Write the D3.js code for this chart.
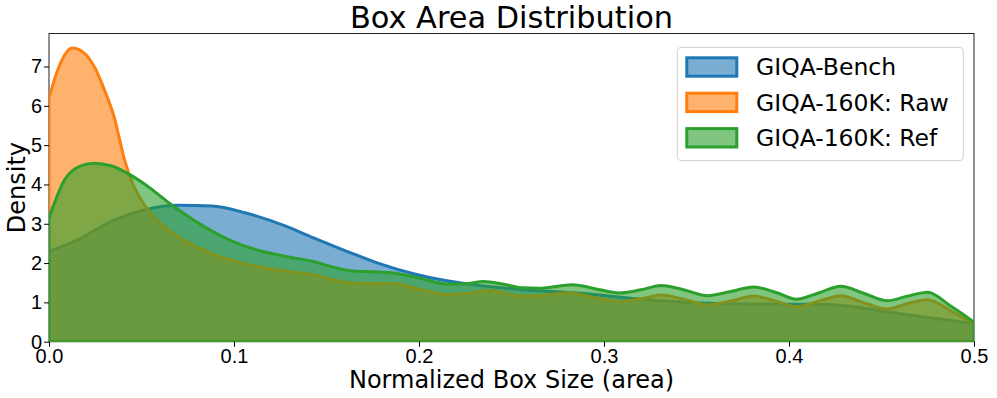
<!DOCTYPE html>
<html lang="en">
<head>
<meta charset="utf-8">
<title>Box Area Distribution</title>
<script src="https://cdn.jsdelivr.net/npm/d3@7"></script>
<style>
  body { margin: 0; background: #fff; }
  svg { font-family: "DejaVu Sans", sans-serif; }
  .axis path { display: none; }
  .axis line { stroke: #000; }
  .axis text { font-size: 20px; fill: #000; }
</style>
</head>
<body>
<div id="chart"></div>
<script>
// series: x positions (normalized box area) and KDE density
var benchX = [0, 0.016, 0.034, 0.052, 0.07, 0.088, 0.106, 0.128, 0.143, 0.161, 0.179, 0.197, 0.215, 0.233, 0.255, 0.288, 0.32, 0.35, 0.38, 0.415, 0.433, 0.45, 0.468, 0.5];
var benchY = [2.3, 2.6, 3.07, 3.36, 3.47, 3.45, 3.28, 2.94, 2.64, 2.3, 1.98, 1.73, 1.55, 1.43, 1.33, 1.23, 1.08, 0.99, 0.96, 0.95, 0.9, 0.78, 0.66, 0.46];

var rawX = [0, 0.005, 0.0126, 0.02, 0.025, 0.03, 0.035, 0.041, 0.045, 0.052, 0.061, 0.07, 0.079, 0.09, 0.097, 0.11, 0.125, 0.143, 0.155, 0.164, 0.175, 0.185, 0.2, 0.215, 0.225, 0.237, 0.245, 0.254, 0.265, 0.281, 0.295, 0.308, 0.32, 0.331, 0.344, 0.356, 0.368, 0.381, 0.393, 0.404, 0.416, 0.428, 0.44, 0.453, 0.464, 0.475, 0.487, 0.5];
var rawY = [6.2, 6.95, 7.47, 7.3, 6.95, 6.4, 5.75, 4.6, 4.05, 3.45, 2.98, 2.66, 2.43, 2.2, 2.09, 1.93, 1.81, 1.7, 1.56, 1.49, 1.48, 1.48, 1.34, 1.2, 1.22, 1.3, 1.25, 1.16, 1.17, 1.24, 1.12, 1.02, 1.09, 1.19, 1.07, 0.94, 1.03, 1.16, 1.03, 0.89, 1.03, 1.17, 1.0, 0.83, 0.97, 1.07, 0.8, 0.44];

var refX = [0, 0.0086, 0.016, 0.024, 0.034, 0.043, 0.052, 0.066, 0.079, 0.097, 0.115, 0.128, 0.143, 0.155, 0.164, 0.175, 0.184, 0.2, 0.215, 0.224, 0.235, 0.245, 0.256, 0.265, 0.283, 0.297, 0.308, 0.32, 0.331, 0.344, 0.356, 0.368, 0.381, 0.393, 0.404, 0.416, 0.428, 0.44, 0.453, 0.464, 0.475, 0.487, 0.5];
var refY = [3.15, 4.13, 4.45, 4.54, 4.47, 4.27, 4.0, 3.49, 3.07, 2.6, 2.3, 2.17, 2.04, 1.88, 1.8, 1.78, 1.76, 1.62, 1.47, 1.47, 1.53, 1.47, 1.37, 1.36, 1.45, 1.33, 1.24, 1.32, 1.43, 1.31, 1.17, 1.27, 1.39, 1.25, 1.08, 1.24, 1.41, 1.24, 1.04, 1.16, 1.26, 0.92, 0.5];

var seriesNames = ["GIQA-Bench", "GIQA-160K: Raw", "GIQA-160K: Ref"];
var seriesColors = ["#1f77b4", "#ff7f0e", "#2ca02c"];
var xTicks = [0, 0.1, 0.2, 0.3, 0.4, 0.5];
var yTicks = [0, 1, 2, 3, 4, 5, 6, 7];

var W = 997, H = 398;
var margin = {top: 33.5, right: 23, bottom: 56.3, left: 49};
var width = W - margin.left - margin.right;
var height = H - margin.top - margin.bottom;

var series = [
  {xs: benchX, ys: benchY},
  {xs: rawX, ys: rawY},
  {xs: refX, ys: refY}
];

var x = d3.scaleLinear().domain([0, 0.5]).range([0, width]);
var y = d3.scaleLinear().domain([0, 7.84]).range([height, 0]);

var svg = d3.select("#chart").append("svg")
    .attr("width", W)
    .attr("height", H);

var g = svg.append("g")
    .attr("transform", "translate(" + margin.left + "," + margin.top + ")");

g.append("defs").append("clipPath")
    .attr("id", "plotclip")
  .append("rect")
    .attr("width", width)
    .attr("height", height);

// frame
g.append("rect")
    .attr("width", width)
    .attr("height", height)
    .attr("fill", "none")
    .attr("stroke", "#222")
    .attr("stroke-width", 1);

var area = d3.area()
    .x(function(d) { return x(d[0]); })
    .y0(y(0))
    .y1(function(d) { return y(d[1]); })
    .curve(d3.curveMonotoneX);

var plot = g.append("g").attr("clip-path", "url(#plotclip)");

series.forEach(function(s, i) {
  var pts = s.xs.map(function(v, j) { return [v, s.ys[j]]; });
  plot.append("path")
      .datum(pts)
      .attr("d", function(d) { return area(d) + "Z"; })
      .attr("fill", seriesColors[i])
      .attr("fill-opacity", 0.6)
      .attr("stroke", seriesColors[i])
      .attr("stroke-width", 3)
      .attr("stroke-linejoin", "round");
});

g.append("g")
    .attr("class", "x axis")
    .attr("transform", "translate(0," + height + ")")
    .call(d3.axisBottom(x).tickValues(xTicks).tickFormat(d3.format(".1f")).tickSize(5).tickPadding(2));

g.append("g")
    .attr("class", "y axis")
    .call(d3.axisLeft(y).tickValues(yTicks).tickFormat(d3.format("d")).tickSize(5).tickPadding(2));

// title and axis labels
svg.append("text")
    .attr("x", margin.left + width / 2)
    .attr("y", 27.7)
    .attr("text-anchor", "middle")
    .attr("font-size", "30.4px")
    .text("Box Area Distribution");

svg.append("text")
    .attr("x", margin.left + width / 2)
    .attr("y", 388)
    .attr("text-anchor", "middle")
    .attr("font-size", "24px")
    .text("Normalized Box Size (area)");

svg.append("text")
    .attr("text-anchor", "middle")
    .attr("transform", "translate(25," + (margin.top + height / 2) + ")rotate(-90)")
    .attr("font-size", "24px")
    .text("Density");

// legend
var legend = svg.append("g").attr("transform", "translate(677.3,47.3)");
legend.append("rect")
    .attr("width", 286)
    .attr("height", 113.4)
    .attr("rx", 4)
    .attr("fill", "#fff")
    .attr("fill-opacity", 0.8)
    .attr("stroke", "#d0d0d0");

seriesNames.forEach(function(name, i) {
  var cy = 19.7 + i * 35.4;
  legend.append("rect")
      .attr("x", 9.5)
      .attr("y", cy - 9.2)
      .attr("width", 50)
      .attr("height", 18.4)
      .attr("fill", seriesColors[i])
      .attr("fill-opacity", 0.6)
      .attr("stroke", seriesColors[i])
      .attr("stroke-width", 3);
  legend.append("text")
      .attr("x", 78.7)
      .attr("y", cy)
      .attr("dy", "0.36em")
      .attr("font-size", "23.5px")
      .text(name);
});
</script>
</body>
</html>
